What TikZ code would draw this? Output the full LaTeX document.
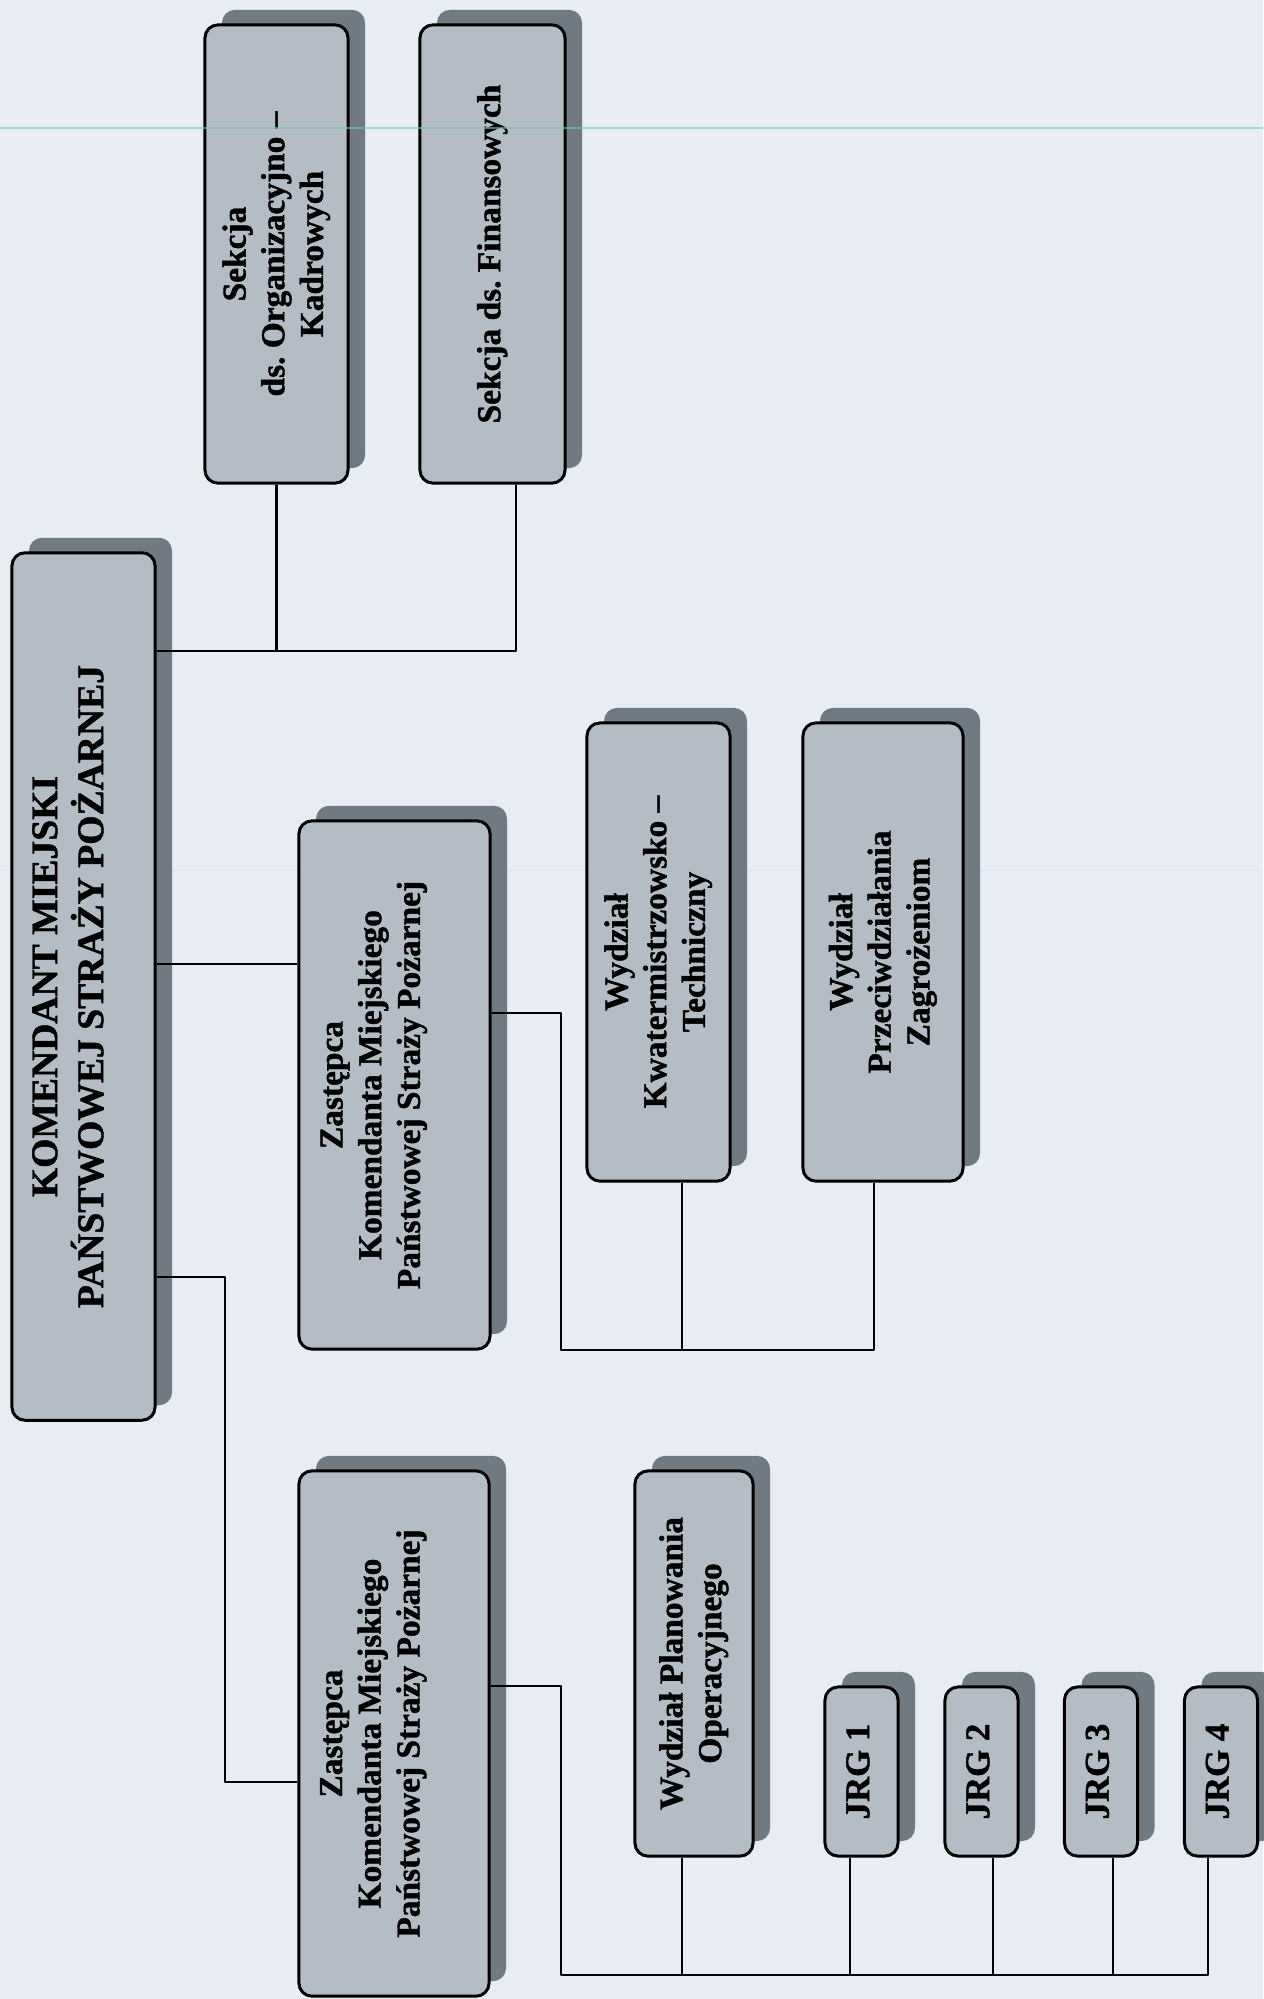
\documentclass[tikz,border=0pt]{standalone}
\usepackage{fontspec}
\setmainfont{Liberation Serif}[BoldFont={Liberation Serif Bold}, BoldFeatures={FakeBold=1.2}]
\usetikzlibrary{shadows}
\definecolor{paper}{RGB}{231,237,242}
\definecolor{boxgray}{RGB}{180,188,197}
\definecolor{shadowgray}{RGB}{112,122,130}
\definecolor{scanline}{RGB}{120,200,190}
\newcommand{\vtext}[1]{\rotatebox{90}{\begin{tabular}{@{}c@{}}#1\end{tabular}}}
\frenchspacing

\begin{document}
\begin{tikzpicture}[x=0.01cm, y=-0.01cm, line join=round, font=\fontsize{9.5}{11}\selectfont\bfseries,
	unit/.style={draw, line width=0.85pt, rounded corners=1.3mm, fill=boxgray, inner sep=0pt,
		drop shadow={shadow xshift=1.7mm, shadow yshift=1.5mm, fill=shadowgray, opacity=1}},
	link/.style={line width=0.6pt}]
	\fill[paper] (0,0) rectangle (1263,1999);
	\useasboundingbox (0,0) rectangle (1263,1999);
	\draw[blue!10, line width=0.5pt] (0,870) -- (1263,870);
	% komendant
	\node[unit, minimum width=1.43cm, minimum height=8.67cm, font=\fontsize{10.7}{13}\selectfont\bfseries] (main) at (83.5,986.5)
		{\vtext{KOMENDANT MIEJSKI\\PAŃSTWOWEJ STRAŻY POŻARNEJ}\hspace*{2.5mm}};
	% sekcje
	\node[unit, minimum width=1.43cm, minimum height=4.58cm] (org) at (276.5,254) {\vtext{Sekcja\\ds. Organizacyjno –\\Kadrowych}};
	\node[unit, minimum width=1.45cm, minimum height=4.58cm] (fin) at (492.5,254) {\vtext{Sekcja ds. Finansowych}};
	% zastepcy
	\node[unit, minimum width=1.91cm, minimum height=5.28cm] (z1) at (394.5,1085)
		{\vtext{Zastępca\\Komendanta Miejskiego\\Państwowej Straży Pożarnej}\hspace*{4.2mm}};
	\node[unit, minimum width=1.90cm, minimum height=5.25cm] (z2) at (394,1733.5)
		{\vtext{Zastępca\\Komendanta Miejskiego\\Państwowej Straży Pożarnej}\hspace*{4.2mm}};
	% wydzialy
	\node[unit, minimum width=1.43cm, minimum height=4.58cm] (kwat) at (658.5,952) {\vtext{Wydział\\Kwatermistrzowsko –\\Techniczny}};
	\node[unit, minimum width=1.60cm, minimum height=4.58cm] (przec) at (883,952) {\vtext{Wydział\\Przeciwdziałania\\Zagrożeniom}};
	\node[unit, minimum width=1.18cm, minimum height=3.85cm] (plan) at (694,1663.5) {\vtext{Wydział Planowania\\Operacyjnego}};
	% jrg
	\node[unit, minimum width=0.73cm, minimum height=1.69cm, font=\fontsize{9.9}{11}\selectfont\bfseries] (jrg1) at (861.5,1771.5) {\vtext{JRG 1}};
	\node[unit, minimum width=0.73cm, minimum height=1.69cm, font=\fontsize{9.9}{11}\selectfont\bfseries] (jrg2) at (981.5,1771.5) {\vtext{JRG 2}};
	\node[unit, minimum width=0.73cm, minimum height=1.69cm, font=\fontsize{9.9}{11}\selectfont\bfseries] (jrg3) at (1101,1771.5) {\vtext{JRG 3}};
	\node[unit, minimum width=0.73cm, minimum height=1.69cm, font=\fontsize{9.9}{11}\selectfont\bfseries] (jrg4) at (1221,1771.5) {\vtext{JRG 4}};
	% polaczenia
	\coordinate (secbus) at (0,651);
	\draw[link] (main.east |- secbus) -| ([xshift=2.35mm]fin.south);
	\draw[link] (org.south) -- (org.south |- secbus);
	\draw[link] (main.east |- 0,964) -- (z1.west |- 0,964);
	\coordinate (z2turn) at (225,1782);
	\draw[link] (main.east |- 0,1277) -| (z2turn) -- (z2.west |- z2turn);
	\coordinate (wbus) at (561,1350);
	\draw[link] (z1.east |- 0,1013) -| (wbus) -| ([xshift=-0.9mm]przec.south);
	\draw[link] ([xshift=2.35mm]kwat.south) |- (wbus);
	\coordinate (jbus) at (561,1975);
	\draw[link] (z2.east |- 0,1686) -| (jbus) -| ([xshift=-1.3mm]jrg4.south);
	\draw[link] ([xshift=-1.2mm]plan.south) |- (jbus);
	\draw[link] ([xshift=-1.15mm]jrg1.south) |- (jbus);
	\draw[link] ([xshift=1.15mm]jrg2.south) |- (jbus);
	\draw[link] ([xshift=1.2mm]jrg3.south) |- (jbus);
	\draw[scanline, opacity=0.6, line width=0.7pt] (0,128) -- (1263,128);
\end{tikzpicture}
\end{document}
